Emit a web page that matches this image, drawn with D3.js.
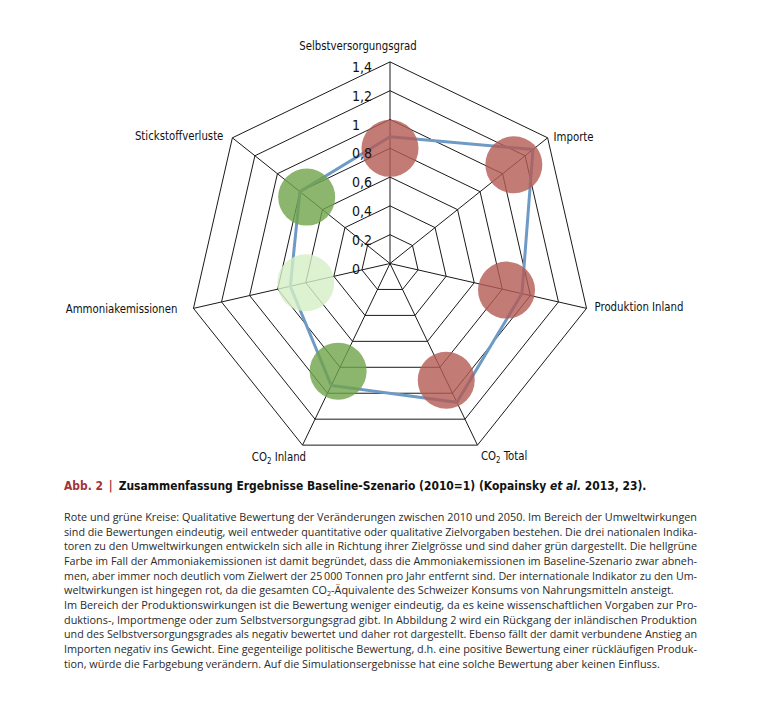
<!DOCTYPE html>
<html>
<head>
<meta charset="utf-8">
<script src="https://cdn.jsdelivr.net/npm/d3@7"></script>
<style>
  body { margin: 0; background: #fff; }
  .lbl { font-family: "Liberation Sans Narrow", "DejaVu Sans Condensed", sans-serif; font-size: 13px; fill: #111; }
  .tick { font-family: "Liberation Sans Narrow", "DejaVu Sans Condensed", sans-serif; font-size: 14px; fill: #111; }
  .cap { font-family: "Liberation Sans Narrow", "DejaVu Sans Condensed", sans-serif; font-size: 14px; font-weight: bold; fill: #111; }
  .note { font-family: "Open Sans", sans-serif; font-size: 10.5px; fill: #2a2a2a; }
</style>
</head>
<body>
<div id="chart"></div>
<script>
// axes of the radar, clockwise from the top
const axes = ["Selbstversorgungsgrad", "Importe", "Produktion Inland", "CO2 Total",
    "CO2 Inland", "Ammoniakemissionen", "Stickstoffverluste"];

// baseline scenario 2050 (2010 = 1)
const baseline = [0.88, 1.27, 0.94, 1.07, 0.94, 0.71, 0.80];

// qualitative rating circles: where they sit on the axis and their rating
const ratingPos = [0.80, 1.10, 0.83, 0.90, 0.83, 0.60, 0.74];
const rating = ["neg", "neg", "neg", "neg", "pos", "weak", "pos"];

const tickValues = [0, 0.2, 0.4, 0.6, 0.8, 1, 1.2, 1.4];
const tickLabels = ["0", "0,2", "0,4", "0,6", "0,8", "1", "1,2", "1,4"];

const noteLines = [
    "Rote und grüne Kreise: Qualitative Bewertung der Veränderungen zwischen 2010 und 2050. Im Bereich der Umweltwirkungen",
    "sind die Bewertungen eindeutig, weil entweder quantitative oder qualitative Zielvorgaben bestehen. Die drei nationalen Indika-",
    "toren zu den Umweltwirkungen entwickeln sich alle in Richtung ihrer Zielgrösse und sind daher grün dargestellt. Die hellgrüne",
    "Farbe im Fall der Ammoniakemissionen ist damit begründet, dass die Ammoniakemissionen im Baseline-Szenario zwar abneh-",
    "men, aber immer noch deutlich vom Zielwert der 25\u2009000 Tonnen pro Jahr entfernt sind. Der internationale Indikator zu den Um-",
    "weltwirkungen ist hingegen rot, da die gesamten CO2-Äquivalente des Schweizer Konsums von Nahrungsmitteln ansteigt.",
    "Im Bereich der Produktionswirkungen ist die Bewertung weniger eindeutig, da es keine wissenschaftlichen Vorgaben zur Pro-",
    "duktions-, Importmenge oder zum Selbstversorgungsgrad gibt. In Abbildung 2 wird ein Rückgang der inländischen Produktion",
    "und des Selbstversorgungsgrades als negativ bewertet und daher rot dargestellt. Ebenso fällt der damit verbundene Anstieg an",
    "Importen negativ ins Gewicht. Eine gegenteilige politische Bewertung, d.h. eine positive Bewertung einer rückläufigen Produk-",
    "tion, würde die Farbgebung verändern. Auf die Simulationsergebnisse hat eine solche Bewertung aber keinen Einfluss."
];
// last line of each paragraph is not justified
const paraEnd = [5, 10];

const width = 768, height = 701;
const cx = 390, cy = 263.5;

let svg = d3.select("#chart").append("svg")
    .attr("width", width)
    .attr("height", height);

let r = d3.scaleLinear().domain([0, 1.4]).range([0, 201.6]);
let angle = d3.scalePoint().domain(d3.range(axes.length)).range([0, 2 * Math.PI * (axes.length - 1) / axes.length]);
let colour = d3.scaleOrdinal().domain(["neg", "pos", "weak"]).range(["#b45a53", "#6fa349", "#d4efc4"]);

const px = (i, v) => cx + r(v) * Math.sin(angle(i));
const py = (i, v) => cy - r(v) * Math.cos(angle(i));

let g = svg.append("g").attr("transform", `translate(${cx},${cy})`);

let ring = d3.lineRadial()
    .angle((d) => angle(d.i))
    .radius((d) => r(d.v))
    .curve(d3.curveLinearClosed);

//grid rings
g.selectAll(".ring")
    .data(tickValues.filter((t) => t > 0))
    .enter()
    .append("path")
    .attr("d", (t) => ring(axes.map((a, i) => ({i: i, v: t}))))
    .attr("fill", "none")
    .attr("stroke", "#1a1a1a")
    .attr("stroke-width", 1);

//spokes
g.selectAll(".spoke")
    .data(axes)
    .enter()
    .append("line")
    .attr("x1", 0).attr("y1", 0)
    .attr("x2", (d, i) => px(i, 1.4) - cx)
    .attr("y2", (d, i) => py(i, 1.4) - cy)
    .attr("stroke", "#1a1a1a")
    .attr("stroke-width", 1);

//rating circles
svg.selectAll(".rating")
    .data(ratingPos)
    .enter()
    .append("circle")
    .attr("cx", (d, i) => px(i, d))
    .attr("cy", (d, i) => py(i, d))
    .attr("r", 28.5)
    .attr("fill", (d, i) => colour(rating[i]))
    .attr("fill-opacity", 0.8);

//baseline line
g.append("path")
    .attr("d", ring(baseline.map((v, i) => ({i: i, v: v}))))
    .attr("fill", "none")
    .attr("stroke", "#6e9ac6")
    .attr("stroke-width", 3)
    .attr("stroke-linejoin", "miter");

//tick labels along the top axis
svg.selectAll(".tick")
    .data(tickValues)
    .enter()
    .append("text")
    .attr("class", "tick")
    .attr("x", cx - 38)
    .attr("y", (d) => cy - r(d) + 10)
    .text((d, i) => tickLabels[i]);

//axis labels: anchor, dx, dy from the outer vertex
const labelPlace = [["middle", -32, -12], ["start", 6, 3], ["start", 8, 3], ["start", 3.5, 15],
    ["end", 3.5, 16], ["end", -16, 4.5], ["end", -9, 2]];

function addLabel(sel, txt) {
    if (txt.startsWith("CO2")) {
        sel.append("tspan").text("CO");
        sel.append("tspan").text("2").attr("font-size", "9px").attr("dy", 3);
        sel.append("tspan").text(txt.slice(3)).attr("dy", -3);
    } else {
        sel.text(txt);
    }
}

axes.forEach((a, i) => {
    // squeezed horizontally to the narrow face of the original
    let lg = svg.append("g")
        .attr("transform", `translate(${px(i, 1.4) + labelPlace[i][1]},${py(i, 1.4) + labelPlace[i][2]}) scale(0.87,1)`);
    let t = lg.append("text")
        .attr("class", "lbl")
        .attr("text-anchor", labelPlace[i][0]);
    addLabel(t, a);
});

//caption
let cap = svg.append("text").attr("class", "cap").attr("x", 64).attr("y", 490);
cap.append("tspan").text("Abb. 2 \u2009|\u2009 ").attr("fill", "#a2343c");
cap.append("tspan").text("Zusammenfassung Ergebnisse Baseline-Szenario (2010=1) (Kopainsky ");
cap.append("tspan").text("et al.").attr("font-style", "italic");
cap.append("tspan").text(" 2013, 23).");
let capLen = cap.node().getComputedTextLength();
cap.style("font-size", (14 * 583 / capLen) + "px");

//note text
let k = 1;
noteLines.forEach((line, i) => {
    let t = svg.append("text")
        .attr("class", "note")
        .attr("x", 64)
        .attr("y", 521 + i * 14.66);
    let parts = line.split("CO2");
    parts.forEach((p, j) => {
        if (j > 0) {
            t.append("tspan").text("CO");
            t.append("tspan").text("2").attr("font-size", "7px").attr("dy", 2);
            t.append("tspan").text(p).attr("dy", -2);
        } else {
            t.append("tspan").text(p);
        }
    });
    let len = t.node().getComputedTextLength();
    if (i === 0) k = 633 / len;
    if (paraEnd.includes(i)) {
        t.attr("textLength", len * k).attr("lengthAdjust", "spacingAndGlyphs");
    } else {
        t.attr("textLength", 633).attr("lengthAdjust", "spacingAndGlyphs");
    }
});
</script>
</body>
</html>
